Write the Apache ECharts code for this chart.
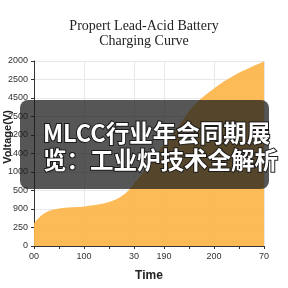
<!DOCTYPE html>
<html><head><meta charset="utf-8">
<script src="https://cdn.jsdelivr.net/npm/echarts@6/dist/echarts.min.js"></script>
<style>html,body{margin:0;padding:0;background:#fff}#c{width:288px;height:288px}</style>
</head><body><div id="c"></div>
<script>
// x positions (time units along axis) and curve values (in y-tick index units)
var curveX = [0, 10, 25, 50, 75, 90, 100, 110, 125, 140, 160, 180, 200, 230];
var curveY = [1.22, 1.76, 2.03, 2.14, 2.38, 2.78, 3.38, 4.03, 5.16, 6.14, 7.59, 8.51, 9.22, 9.97];
// x tick labels and their positions
var xLabelPos = [0, 50, 100, 130, 180, 230];
var xLabels = ['00', '100', '30', '190', '200', '70'];
var xTickPos = [0, 25, 50, 75, 100, 130, 155, 180, 205, 230];
// y tick labels, bottom to top
var yLabels = ['0', '250', '900', '500', '1000', '1400', '1200', '2500', '4500', '2500', '2000'];

var data = curveX.map(function (x, i) { return [x, curveY[i]]; });
var chart = echarts.init(document.getElementById('c'), null, {renderer: 'canvas'});
chart.setOption({
  animation: false,
  title: {
    text: 'Propert Lead-Acid Battery\nCharging Curve',
    left: 'center', top: 14,
    textStyle: {fontFamily: 'Liberation Serif', fontSize: 14, fontWeight: 'normal', color: '#222', lineHeight: 15}
  },
  grid: {left: 34, right: 24, top: 61, bottom: 42, containLabel: false, outerBoundsMode: 'none'},
  xAxis: [{
    type: 'value', min: 0, max: 230,
    name: 'Time', nameLocation: 'middle', nameGap: 24,
    nameTextStyle: {fontFamily: 'Liberation Sans', fontWeight: 'bold', fontSize: 12, color: '#222'},
    axisLine: {lineStyle: {color: '#333'}},
    axisTick: {show: true, length: 3, customValues: xTickPos, lineStyle: {color: '#333'}},
    axisLabel: {customValues: xLabelPos, fontFamily: 'Liberation Sans', fontSize: 9, color: '#333', margin: 6,
      formatter: function (v) { var i = xLabelPos.indexOf(v); return i >= 0 ? xLabels[i] : ''; }},
    splitLine: {show: false}
  }, {
    type: 'value', min: 0, max: 230, position: 'bottom',
    axisLine: {show: false}, axisLabel: {show: false},
    axisTick: {show: false, customValues: xLabelPos},
    splitLine: {show: true, lineStyle: {color: '#e8e8e8', width: 1}}
  }],
  yAxis: {
    type: 'value', min: 0, max: 10, interval: 1,
    axisLine: {show: true, lineStyle: {color: '#333'}},
    axisTick: {show: true, length: 3, lineStyle: {color: '#333'}},
    axisLabel: {fontFamily: 'Liberation Sans', fontSize: 9, color: '#333', margin: 6,
      formatter: function (v) { return yLabels[Math.round(v)]; }},
    splitLine: {show: true, lineStyle: {color: '#e8e8e8'}}
  },
  series: [{
    type: 'line', data: data, smooth: 0.4, symbol: 'none',
    lineStyle: {width: 0},
    areaStyle: {color: '#fcb548', opacity: 0.92}
  }],
  graphic: [{
    type: 'text', x: 8, y: 137, rotation: Math.PI / 2,
    style: {text: 'Voltage(V)', fontFamily: 'Liberation Sans', fontWeight: 'bold', fontSize: 11,
      fill: '#222', align: 'center', verticalAlign: 'middle'}
  }, {
    type: 'rect', shape: {x: 20, y: 100, width: 249, height: 89, r: 8},
    style: {fill: 'rgba(30,30,30,0.75)'}, z: 100
  }, {
    type: 'text', x: 43, y: 120, z: 101,
    style: {
      text: 'MLCC行业年会同期展\n览：工业炉技术全解析',
      fontFamily: 'Noto Sans CJK SC', fontWeight: 'bold', fontSize: 23.5, lineHeight: 27,
      fill: '#fff', stroke: '#1a1a1a', lineWidth: 2, verticalAlign: 'top', align: 'left'
    }
  }]
});
</script></body></html>
